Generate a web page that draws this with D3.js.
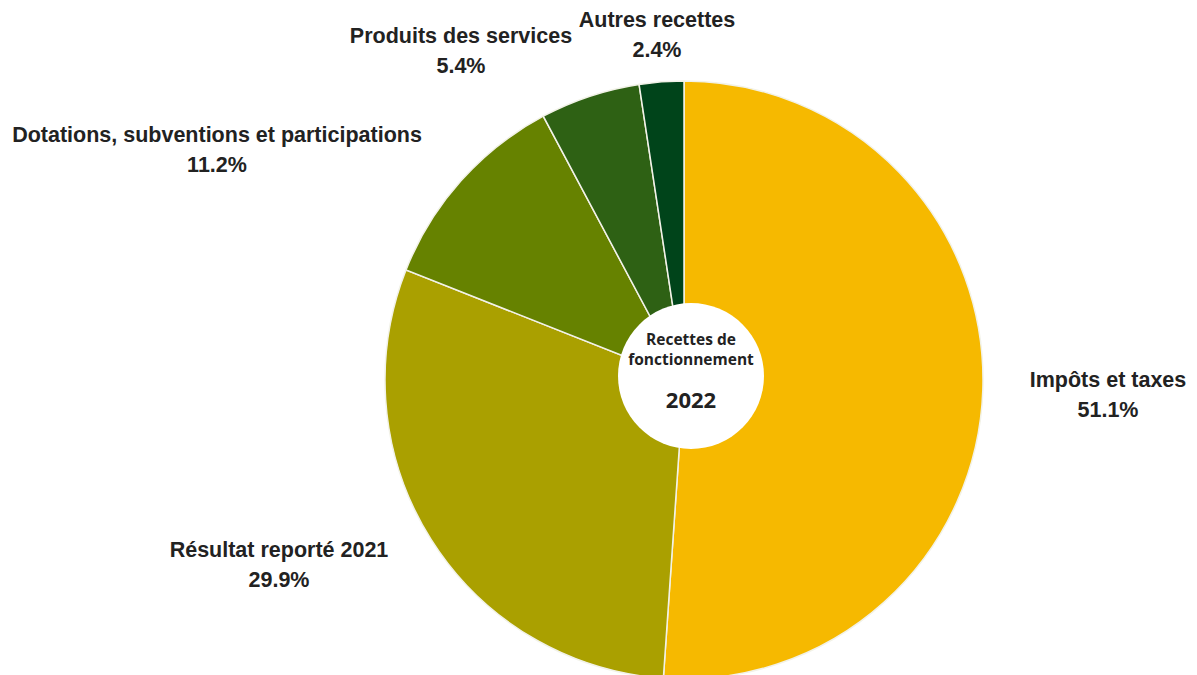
<!DOCTYPE html>
<html><head><meta charset="utf-8">
<script src="https://cdn.jsdelivr.net/npm/d3@7"></script>
<style>
html,body{margin:0;padding:0;background:#fff;}
svg{display:block;}
.lbl{font-family:"Liberation Sans",Arial,sans-serif;font-weight:bold;font-size:21.5px;fill:#222;}
.ctr{font-family:"Open Sans","Noto Sans",sans-serif;font-weight:bold;fill:#222;}
</style>
</head><body>
<svg id="c" width="1197" height="675"></svg>
<script>
const categories = ["Impôts et taxes","Résultat reporté 2021","Dotations, subventions et participations","Produits des services","Autres recettes"];
const values = [51.1, 29.9, 11.2, 5.4, 2.4];
const colors = ["#F6B900","#AAA000","#668200","#2E6114","#00441A"];
const centerLines = ["Recettes de","fonctionnement"];
const centerYear = "2022";

// label layout (pixel anchors for each category label: center x, first baseline)
const labelAnchors = [[1108,387],[279,557],[217,142],[461,43],[657,27]];

const svg = d3.select("#c");
const cx = 684, cy = 380, R = 299;
const pie = d3.pie().sort(null).value(d=>d)(values);
const arc = d3.arc().innerRadius(0).outerRadius(R);
const g = svg.append("g").attr("transform",`translate(${cx},${cy})`);
g.selectAll("path").data(pie).join("path")
  .attr("d",arc).attr("fill",(d,i)=>colors[i])
  .attr("stroke","#f2f2e8").attr("stroke-width",1.5);

const hole = svg.append("g").attr("transform","translate(691,376)");
hole.append("circle").attr("r",73).attr("fill","#fff");
hole.append("text").attr("class","ctr").attr("text-anchor","middle").attr("y",-31).attr("font-size",15.5).text(centerLines[0]);
hole.append("text").attr("class","ctr").attr("text-anchor","middle").attr("y",-11).attr("font-size",15.5).text(centerLines[1]);
hole.append("text").attr("class","ctr").attr("text-anchor","middle").attr("y",32).attr("font-size",22).text(centerYear);

categories.forEach((c,i)=>{
  const [x,y] = labelAnchors[i];
  const t = svg.append("text").attr("class","lbl").attr("text-anchor","middle");
  t.append("tspan").attr("x",x).attr("y",y).text(c);
  t.append("tspan").attr("x",x).attr("y",y+30).text(values[i].toFixed(1)+"%");
});
</script>
</body></html>
